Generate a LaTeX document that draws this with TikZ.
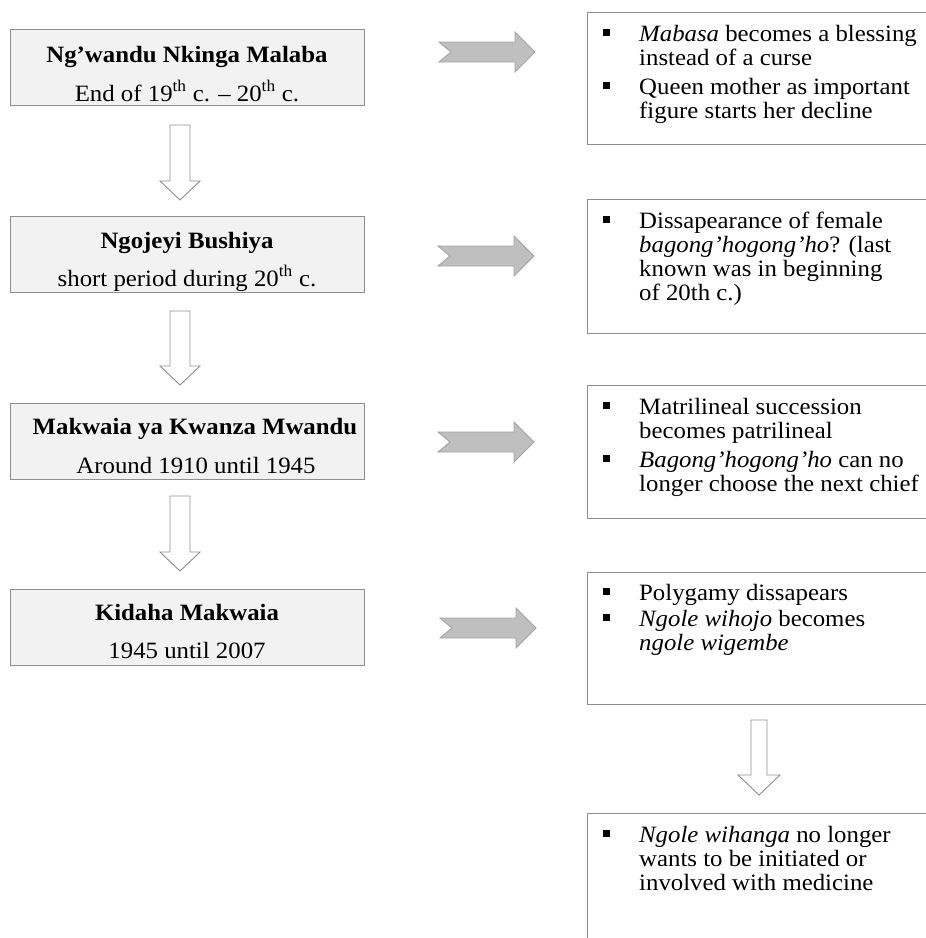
\documentclass[tikz,border=0pt]{standalone}
\usepackage{fontspec}
\setmainfont[FakeStretch=1.06]{Liberation Serif}
\definecolor{lfill}{HTML}{F2F2F2}
\definecolor{boxgray}{HTML}{8E8E8E}
\definecolor{gafill}{HTML}{BFBFBF}
\definecolor{gadraw}{HTML}{A3A3A3}
\definecolor{wadraw}{HTML}{8E8E8E}
\newcommand{\GrayArr}[3]{% xleft, xright, ycenter
  \draw[garrow] (#1,#3-10) -- (#2-20,#3-10) -- (#2-20,#3-20) -- (#2,#3)
    -- (#2-20,#3+20) -- (#2-20,#3+10) -- (#1,#3+10) -- (#1+12,#3) -- cycle;}
\newcommand{\WhiteDown}[6]{% xc, ytop, yhead, ytip, shaft half, head half
  \draw[warrow] (#1-#5,#2) -- (#1+#5,#2) -- (#1+#5,#3) -- (#1+#6,#3) -- (#1,#4)
    -- (#1-#6,#3) -- (#1-#5,#3) -- cycle;}
\newcommand{\Bul}[1]{\fill (603,#1-12) rectangle (610,#1-5);}
\begin{document}
\begin{tikzpicture}[x=1pt,y=-1pt,
  font=\fontsize{23.4}{24}\selectfont,
  lbox/.style={draw=boxgray, fill=lfill, line width=1.1pt, anchor=north west,
    inner sep=0pt, minimum width=354pt, minimum height=76pt},
  rbox/.style={draw=boxgray, fill=white, line width=1.1pt, anchor=north west,
    inner sep=0pt, minimum width=380pt},
  ltxt/.style={anchor=base, inner sep=0pt},
  rtxt/.style={anchor=base west, inner sep=0pt},
  garrow/.style={draw=gadraw, fill=gafill, line width=0.9pt, line join=miter},
  warrow/.style={draw=wadraw, fill=white, line width=0.9pt, line join=miter}]
\useasboundingbox (0,0) rectangle (926,938);
\clip (0,0) rectangle (926,938);

% left boxes
\node[lbox] (L1) at (10,29) {};
\node[lbox] (L2) at (10,216) {};
\node[lbox] (L3) at (10,403) {};
\node[lbox] (L4) at (10,589) {};
\node[ltxt] (L1a) at (187,62) {\bfseries Ng’wandu Nkinga Malaba};
\node[ltxt] (L1b) at (187,101) {End of 19\textsuperscript{th} c. – 20\textsuperscript{th} c.};
\node[ltxt] (L2a) at (187,248) {\bfseries Ngojeyi Bushiya};
\node[ltxt] (L2b) at (187,286) {short period during 20\textsuperscript{th} c.};
\node[ltxt] (L3a) at (195,434) {\bfseries Makwaia ya Kwanza Mwandu};
\node[ltxt] (L3b) at (196,473) {Around 1910 until 1945};
\node[ltxt] (L4a) at (187,620) {\bfseries Kidaha Makwaia};
\node[ltxt] (L4b) at (187,658) {1945 until 2007};

% right boxes
\node[rbox, minimum height=132pt] (R1) at (587,12) {};
\node[rbox, minimum height=134pt] (R2) at (587,199) {};
\node[rbox, minimum height=133pt] (R3) at (587,385) {};
\node[rbox, minimum height=132pt] (R4) at (587,572) {};
\node[rbox, minimum height=160pt] (R5) at (587,813) {};

\Bul{41}
\node[rtxt] (R1a) at (639,41) {\textit{Mabasa} becomes a blessing};
\node[rtxt] (R1b) at (639,65) {instead of a curse};
\Bul{94}
\node[rtxt] (R1c) at (639,94) {Queen mother as important};
\node[rtxt] (R1d) at (639,118) {figure starts her decline};

\Bul{228}
\node[rtxt] (R2a) at (639,228) {Dissapearance of female};
\node[rtxt] (R2b) at (639,252) {\textit{bagong’hogong’ho}? (last};
\node[rtxt] (R2c) at (639,276) {known was in beginning};
\node[rtxt] (R2d) at (639,300) {of 20th c.)};

\Bul{414}
\node[rtxt] (R3a) at (639,414) {Matrilineal succession};
\node[rtxt] (R3b) at (639,438) {becomes patrilineal};
\Bul{467}
\node[rtxt] (R3c) at (639,467) {\textit{Bagong’hogong’ho} can no};
\node[rtxt] (R3d) at (639,491) {longer choose the next chief};

\Bul{600}
\node[rtxt] (R4a) at (639,600) {Polygamy dissapears};
\Bul{626}
\node[rtxt] (R4b) at (639,626) {\textit{Ngole wihojo} becomes};
\node[rtxt] (R4c) at (639,650) {\textit{ngole wigembe}};

\Bul{842}
\node[rtxt] (R5a) at (639,842) {\textit{Ngole wihanga} no longer};
\node[rtxt] (R5b) at (639,866) {wants to be initiated or};
\node[rtxt] (R5c) at (639,890) {involved with medicine};

% gray arrows (left box -> right box)
\GrayArr{439}{535}{52}
\GrayArr{438}{534}{256}
\GrayArr{438}{534}{442}
\GrayArr{440}{536}{628}

% white down arrows
\WhiteDown{180}{125}{181}{200}{10}{20}
\WhiteDown{180}{311}{366}{385}{10}{20}
\WhiteDown{180}{496}{552}{571}{10}{20}
\WhiteDown{759}{720}{775}{795}{8}{21}
\end{tikzpicture}
\end{document}
